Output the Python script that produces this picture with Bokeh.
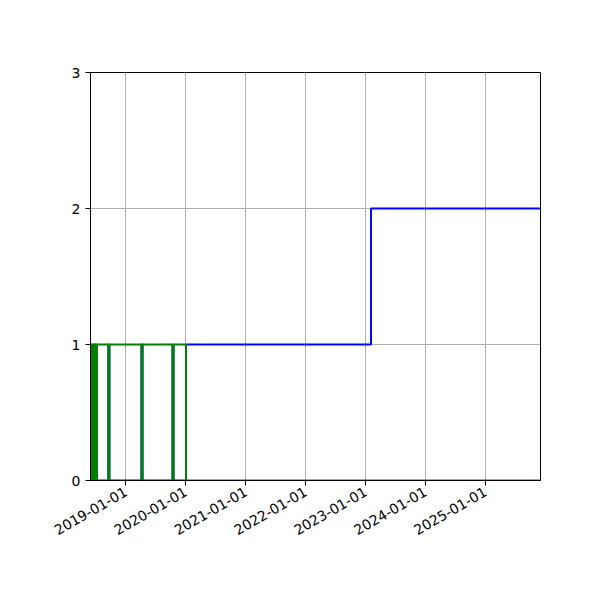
from datetime import datetime
from math import pi

from bokeh.plotting import figure
from bokeh.models import Range1d, FixedTicker, DatetimeTickFormatter
from bokeh.embed import file_html
from bokeh.resources import INLINE

# green series: on most of the time early on, brief drops, then off for good
green_dates = [
    "2018-05-30", "2018-06-03", "2018-06-10", "2018-06-17", "2018-06-24",
    "2018-07-01", "2018-07-08", "2018-07-15", "2018-09-16", "2018-09-22",
    "2019-04-06", "2019-04-12", "2019-10-12", "2019-10-18", "2020-01-02",
    "2025-12-02",
]
green_values = [1, 0, 1, 0, 1, 0, 1, 1, 0, 1, 0, 1, 0, 1, 0, 0]

# blue series: mirror of green early on, then 1, then 2
blue_dates = [
    "2018-05-30", "2018-06-03", "2018-06-10", "2018-06-17", "2018-06-24",
    "2018-07-01", "2018-07-08", "2018-07-15", "2018-09-16", "2018-09-22",
    "2019-04-06", "2019-04-12", "2019-10-12", "2019-10-18", "2020-01-02",
    "2023-02-03", "2025-12-02",
]
blue_values = [0, 1, 0, 1, 0, 1, 0, 0, 1, 0, 1, 0, 1, 0, 1, 2, 2]

tick_years = [2019, 2020, 2021, 2022, 2023, 2024, 2025]
y_ticks = [0, 1, 2, 3]


def to_dt(s):
    return datetime.strptime(s, "%Y-%m-%d")


p = figure(
    width=592, height=592,
    x_axis_type="datetime",
    output_backend="svg",
    toolbar_location=None,
    min_border_left=90, min_border_right=52,
    min_border_top=72, min_border_bottom=112,
)

p.x_range = Range1d(to_dt("2018-05-30"), to_dt("2025-12-02"))
p.y_range = Range1d(0, 3)

p.step([to_dt(d) for d in blue_dates], blue_values, mode="after",
       line_color="blue", line_width=2)
p.step([to_dt(d) for d in green_dates], green_values, mode="after",
       line_color="green", line_width=2)

tick_ms = [datetime(y, 1, 1).timestamp() * 1000 for y in tick_years]
p.xaxis.ticker = FixedTicker(ticks=tick_ms)
p.xaxis.formatter = DatetimeTickFormatter(years="%Y-%m-%d", months="%Y-%m-%d",
                                          days="%Y-%m-%d")
p.xaxis.major_label_orientation = pi / 6
p.yaxis.ticker = FixedTicker(ticks=y_ticks)

for ax in (p.xaxis, p.yaxis):
    ax.major_label_text_font = "DejaVu Sans"
    ax.major_label_text_font_size = "14px"
    ax.major_label_text_color = "black"
    ax.major_tick_out = 5
    ax.major_tick_in = 0
    ax.minor_tick_out = 0
    ax.minor_tick_in = 0
    ax.axis_line_color = "black"
    ax.major_tick_line_color = "black"

p.grid.grid_line_color = "#b0b0b0"
p.grid.grid_line_width = 1
p.outline_line_color = "black"
p.outline_line_alpha = 1
p.background_fill_color = "white"
p.border_fill_color = "white"

open("out.html", "w").write(file_html(p, INLINE))
